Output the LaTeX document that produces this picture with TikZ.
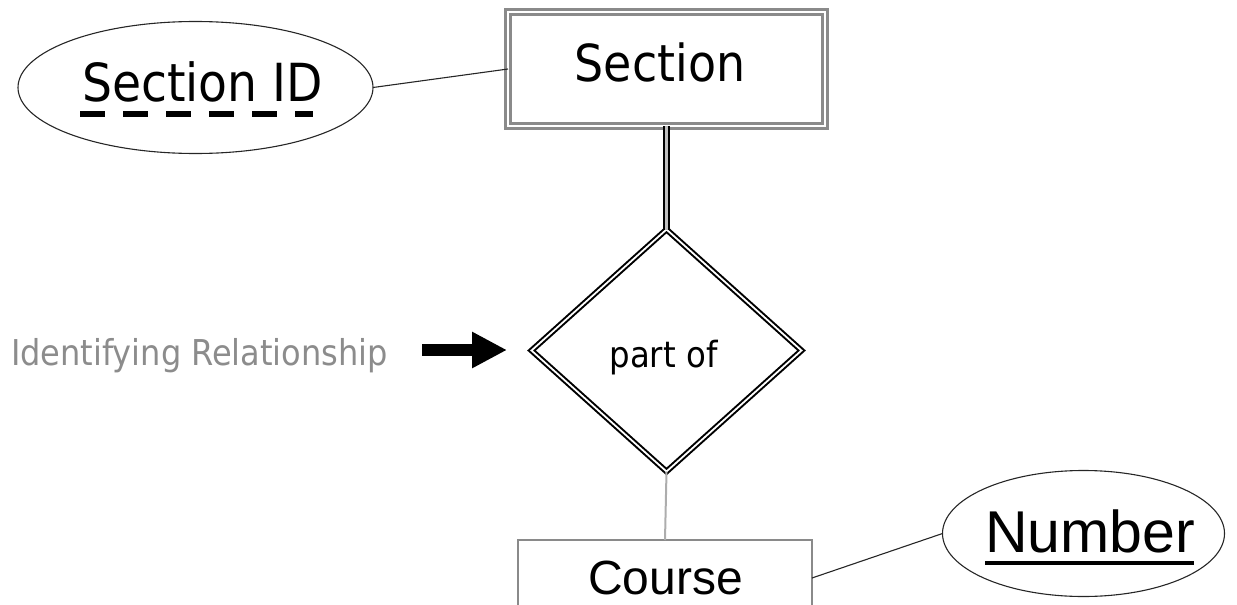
\documentclass[tikz,border=0pt]{standalone}
\usepackage{fontspec}
\usetikzlibrary{shapes.geometric,arrows.meta}
\newfontfamily\dvc{DejaVu Sans Condensed}
\newfontfamily\lsans{Liberation Sans}
\definecolor{frame}{HTML}{8A8A8A}
\definecolor{labelgray}{HTML}{8C8C8C}
\tikzset{
  every node/.style={inner sep=0pt, outer sep=0pt},
  attr/.style={ellipse, draw=black!85, line width=1.1pt},
  weakent/.style={rectangle, draw=frame, line width=2.5pt, double=white, double distance=2.5pt},
  strongent/.style={rectangle, draw=frame, line width=1.6pt},
  idrel/.style={diamond, draw=black, line width=2pt, double=white, double distance=1.8pt},
  conn/.style={draw=black!85, line width=1.1pt},
  grayconn/.style={draw=frame!70, line width=2pt},
  dblconn/.style={draw=black, line width=1.8pt, double=black!25, double distance=3.5pt},
}
\begin{document}
\begin{tikzpicture}[x=1pt,y=-1pt]
\useasboundingbox (0,0) rectangle (1237,605);
% shapes
\node[weakent, minimum width=317pt, minimum height=114pt] (sec) at (666.5,69) {};
\node[attr, minimum width=355pt, minimum height=132pt] (sid) at (195.5,87.5) {};
\node[idrel, minimum width=270pt, minimum height=242pt] (rel) at (666.5,350.5) {};
\node[strongent, minimum width=294pt, minimum height=76pt] (crs) at (665,578) {};
\node[attr, minimum width=282pt, minimum height=126pt] (num) at (1083.5,533.5) {};
% texts
\node (sectxt) at (660,62.5) {\dvc\fontsize{51}{60}\selectfont Section};
\node (sidtxt) at (202.5,81.5) {\dvc\fontsize{52.5}{62}\selectfont Section ID};
\node (reltxt) at (663.5,358) {\dvc\fontsize{36}{42}\selectfont part of};
\node (crstxt) at (665.5,577.5) {\lsans\fontsize{48}{58}\selectfont Course};
\node (numtxt) at (1090,531.5) {\lsans\fontsize{59}{70}\selectfont Number};
\node[text=labelgray] (lbl) at (199.5,356) {\dvc\fontsize{35.6}{42}\selectfont Identifying Relationship};
% key underlines
\draw[line width=5.5pt, dash pattern=on 25pt off 18pt] (80,114) -- (313,114);
\draw[line width=4pt] (985,563) -- (1194,563);
% connectors
\draw[conn] (sid.east) -- (sec.west);
\draw[dblconn] (sec.south) -- (rel.north);
\draw[grayconn] (rel.south) -- (crs.north);
\draw[conn] (crs.east) -- (num.west);
% arrow
\coordinate (arS) at (422,350);
\coordinate (arE) at (507,350);
\draw[line width=12pt, -{Triangle[length=35pt,width=34pt]}] (arS) -- (arE);
\end{tikzpicture}
\end{document}
